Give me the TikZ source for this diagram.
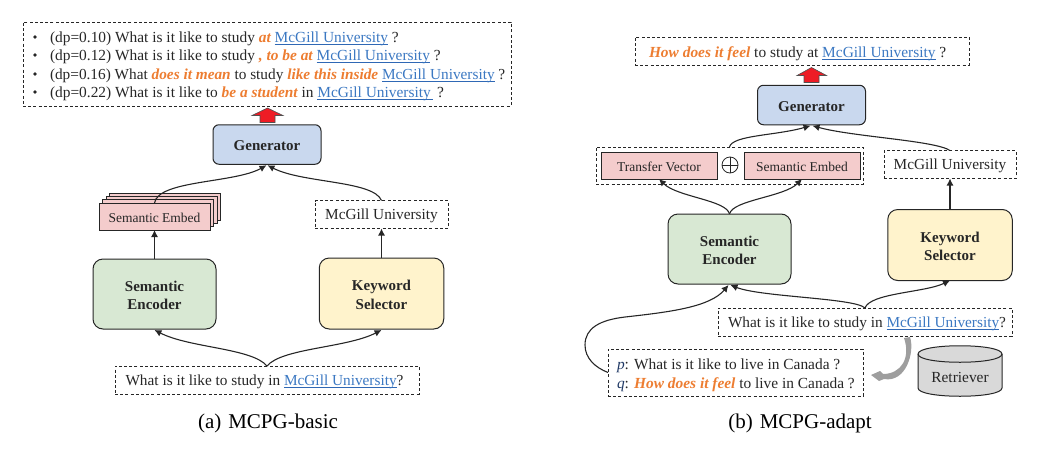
\documentclass[tikz,border=0pt]{standalone}
\usepackage{fontspec}
\setmainfont{Liberation Serif}
\usetikzlibrary{arrows.meta,calc}
\definecolor{blk}{HTML}{262626}
\definecolor{kw}{HTML}{3B78C2}
\definecolor{kwline}{HTML}{2F68B5}
\definecolor{oran}{HTML}{ED7D31}
\definecolor{vari}{HTML}{1F3864}
\definecolor{gennfill}{HTML}{C9D8EE}
\definecolor{encfill}{HTML}{D8E8D3}
\definecolor{selfill}{HTML}{FFF3CC}
\definecolor{pinkfill}{HTML}{F4CCCC}
\definecolor{redfill}{HTML}{EE1C25}
\newcommand{\mg}[1]{{\color{kw}\setbox0=\hbox{#1}\rlap{\color{kwline}\rule[-2.6pt]{\wd0}{0.9pt}}\box0}}
\newcommand{\hl}[1]{{\color{oran}\bfseries\itshape #1}}
\newcommand{\dn}{\rule{0pt}{13pt}}
\newcommand{\dnm}{\rule{0pt}{13.5pt}}
\newcommand{\dnp}{\rule{0pt}{11.5pt}}
\tikzset{
  x=1pt,y=-1pt,
  every node/.style={inner sep=0pt,outer sep=0pt,text=blk},
  main/.style={font=\fontsize{15.4}{18}\selectfont},
  mainn/.style={font=\fontsize{15.3}{18}\selectfont},
  capt/.style={font=\fontsize{21}{24}\selectfont,text=black},
  modbox/.style={draw=blk,line width=1pt,align=center,font=\fontsize{15}{18.2}\selectfont\bfseries},
  genbox/.style={modbox,fill=gennfill,rounded corners=6pt,minimum width=108pt,minimum height=39.5pt},
  encbox/.style={modbox,fill=encfill,minimum width=123pt,minimum height=70pt,rounded corners=10pt},
  selbox/.style={modbox,fill=selfill,minimum width=124.5pt,minimum height=71pt,rounded corners=10pt},
  dashbox/.style={draw=blk,line width=0.8pt,dash pattern=on 3pt off 2.2pt},
  pinkbox/.style={draw=blk,line width=1pt,fill=pinkfill,font=\fontsize{13.5}{16}\selectfont},
  conn/.style={draw=blk,line width=1.1pt,-{Latex[length=7pt,width=7pt]}},
  redarrow/.style={draw=blk!80,line width=0.6pt,fill=redfill},
  bigarrow/.style={fill=black!38},
  cyl/.style={draw=blk,line width=1pt,fill=black!15},
}
\begin{document}
\begin{tikzpicture}
\useasboundingbox (0,0) rectangle (1038,453);

%% ---------- (a) ----------
\node[dashbox,minimum width=488pt,minimum height=84pt] (outA) at (267,64) {};
\node[main,anchor=base west] (la1) at (50,42) {(dp=0.10) What is it like to study \hl{at} \mg{McGill University} ?};
\node[main,anchor=base west] (la2) at (50,60) {(dp=0.12) What is it like to study \hl{, to be at} \mg{McGill University} ?};
\node[mainn,anchor=base west] (la3) at (50,79) {(dp=0.16) What \hl{does it mean} to study \hl{like this inside} \mg{McGill University} ?};
\node[main,anchor=base west] (la4) at (50,97) {(dp=0.22) What is it like to \hl{be a student} in \mg{McGill University\,} ?};
\foreach \yy in {37,55,74,92} \fill[blk] (35,\yy) circle (1.9pt);

\node[genbox] (genA) at (267,144.5) {\dn Generator};
\draw[redarrow] (260,122.5) -- (260,115.5) -- (252,115.5) -- (267.5,108) -- (283,115.5) -- (275,115.5) -- (275,122.5) -- cycle;

\foreach \d in {3,2,1}
  \node[pinkbox,minimum width=111pt,minimum height=27pt] (st\d) at ({154.5+3.5*\d},{216.5-3.3*\d}) {};
\node[pinkbox,minimum width=111pt,minimum height=27pt] (embA) at (154.5,216.5) {\dnp Semantic Embed};
\node[mainn,dashbox,minimum width=133pt,minimum height=28pt] (kwA) at (381.5,214.5) {\dnm McGill University};
\node[encbox] (encA) at (154.5,294) {\dn Semantic\\Encoder};
\node[selbox] (selA) at (381.5,293.5) {\dn Keyword\\Selector};
\node[dashbox,minimum width=304pt,minimum height=28pt] (inA) at (267,380) {};
\node[mainn] (inAt) at (264.5,380) {\dnm What is it like to study in \mg{McGill University}?};
\node[capt] (capA) at (268,423.5) {\dnm(a)\hspace{7pt}MCPG-basic};

\draw[conn] (embA.north) .. controls +(3.5,-23) and +(-32,18) .. ($(genA.south)+(-0.5,1)$);
\draw[conn] (kwA.north) .. controls +(-8,-20) and +(35,18) .. ($(genA.south)+(0.5,1)$);
\draw[conn] (encA.north) -- (embA.south);
\draw[conn] (selA.north) -- (kwA.south);
\draw[conn] (inA.north) .. controls +(-15,-18) and +(35,18) .. ($(encA.south)+(0,1)$);
\draw[conn] (inA.north) .. controls +(15,-18) and +(-35,18) .. ($(selA.south)+(0,1)$);

%% ---------- (b) ----------
\node[dashbox,minimum width=334pt,minimum height=28pt] (outB) at (802,51) {};
\node[main,anchor=base west] (lb) at (649,57) {\hl{How does it feel} to study at \mg{McGill University} ?};
\node[genbox] (genB) at (811.5,105) {\dn Generator};
\draw[redarrow] (804,82.5) -- (804,75.5) -- (797,75.5) -- (811.5,67.5) -- (826.5,75.5) -- (819,75.5) -- (819,82.5) -- cycle;

\node[dashbox,minimum width=267pt,minimum height=37pt] (grp) at (729.5,165.5) {};
\node[pinkbox,minimum width=116pt,minimum height=27pt] (tv) at (659,165.5) {\dnp Transfer Vector};
\node[pinkbox,minimum width=116pt,minimum height=27pt] (seB) at (802,165.5) {\dnp Semantic Embed};
\node[draw=blk,line width=0.8pt,circle,minimum size=16pt] (op) at (730,165) {};
\draw[blk,line width=0.8pt] (op.north) -- (op.south) (op.west) -- (op.east);

\node[mainn,dashbox,minimum width=132pt,minimum height=28pt] (kwB) at (950,164.5) {\dnm McGill University};
\node[encbox] (encB) at (729.5,249) {\dn Semantic\\Encoder};
\node[selbox] (selB) at (950,245) {\dn Keyword\\Selector};
\node[dashbox,minimum width=294pt,minimum height=28pt] (inB) at (865,322) {};
\node[mainn] (inBt) at (867,322) {\dnm What is it like to study in \mg{McGill University}?};
\node[dashbox,minimum width=255pt,minimum height=47pt] (pq) at (735.5,372.5) {};
\node[main,anchor=base west] (lp) at (617,369) {{\color{vari}\itshape p}: What is it like to live in Canada ?};
\node[main,anchor=base west] (lq) at (617,388) {{\color{vari}\itshape q}: \hl{How does it feel} to live in Canada ?};

\draw[cyl] (918,354) .. controls (918,343) and (1002,343) .. (1002,354) -- (1002,388)
  .. controls (1002,399) and (918,399) .. (918,388) -- cycle;
\draw[draw=blk,line width=1pt] (918,354) .. controls (918,365) and (1002,365) .. (1002,354);
\node[main] (ret) at (960,376.5) {\dnp Retriever};
\node[capt] (capB) at (800,423.5) {\dnm(b)\hspace{7pt}MCPG-adapt};

\draw[conn] (grp.north) .. controls +(3,-12) and +(-35,10) .. ($(genB.south)+(-1,1)$);
\draw[conn] (kwB.north) .. controls +(-15,-10) and +(40,11) .. ($(genB.south)+(1,1)$);
\draw[conn] (encB.north) .. controls +(-3,-14) and +(18,18) .. (tv.south);
\draw[conn] (encB.north) .. controls +(3,-14) and +(-18,18) .. (seB.south);
\draw[conn] (selB.north) -- (kwB.south);
\draw[conn] (inB.north) .. controls +(-10,-10) and +(30,12) .. ($(encB.south)+(1,1)$);
\draw[conn] (inB.north) .. controls +(5,-15) and +(-25,12) .. (selB.south);
\draw[conn] (pq.west) .. controls +(-13,-5) and (585,358) .. (585,345) .. controls (585,328) and (600,320) .. (625,317) .. controls (670,312) and (710,307) .. ($(encB.south)+(-1,1)$);

\fill[bigarrow] (904,338) -- (910,337) .. controls (915,352) and (906,383) .. (884,379)
  -- (879,381) -- (871,375) -- (880,371) -- (883,374) .. controls (901,374) and (911,358) .. (904,338) -- cycle;
\end{tikzpicture}
\end{document}
